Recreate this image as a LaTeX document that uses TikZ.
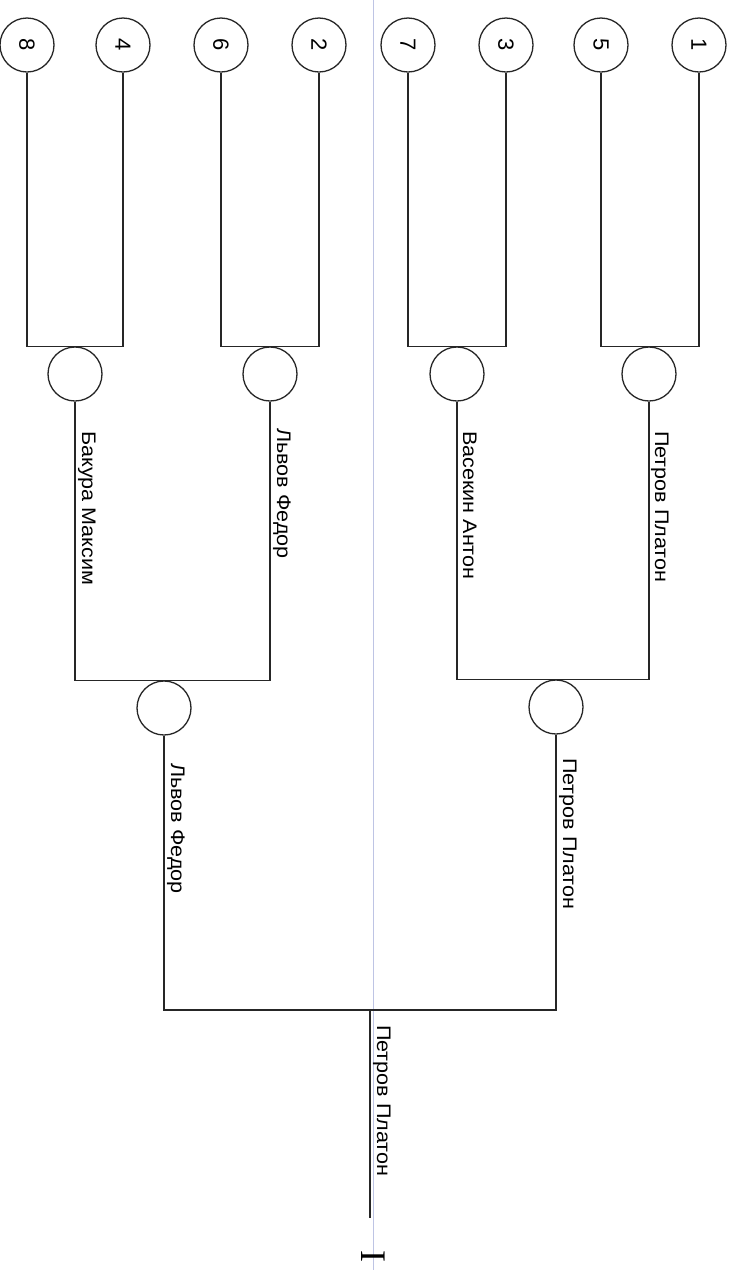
\documentclass[tikz,border=0pt]{standalone}
\usepackage{fontspec}
\setmainfont{Liberation Sans}
\newfontfamily\labfont[FakeStretch=1.1]{Liberation Sans}
\newfontfamily\romanI{Liberation Serif}
\begin{document}
\begin{tikzpicture}[x=1pt,y=1pt,
  seed/.style={circle,draw=black!85,line width=1.3pt,minimum size=54pt,inner sep=0pt,font=\fontsize{22}{24}\selectfont},
  game/.style={circle,draw=black!85,line width=1.3pt,minimum size=54pt,inner sep=0pt},
  wire/.style={draw=black!85,line width=1.3pt},
  fold/.style={draw={rgb,255:red,190;green,196;blue,228},line width=0.8pt},
  lab/.style={rotate=-90,anchor=base west,inner sep=0pt,font=\labfont\fontsize{19.6}{24}\selectfont},
  roman/.style={rotate=-90,inner sep=0pt,font=\romanI\fontsize{36}{40}\selectfont}]
\useasboundingbox[fill=white] (0,0) rectangle (731,-1270);
\coordinate (ftop) at (373,0);
\coordinate (fbot) at (373,-1270);
\draw[fold] (ftop) -- (fbot);
% seeds
\node[seed] (s8) at (27,-45) {\rotatebox{-90}{8}};
\node[seed] (s4) at (123,-45) {\rotatebox{-90}{4}};
\node[seed] (s6) at (221,-45) {\rotatebox{-90}{6}};
\node[seed] (s2) at (319,-45) {\rotatebox{-90}{2}};
\node[seed] (s7) at (408,-45) {\rotatebox{-90}{7}};
\node[seed] (s3) at (506,-45) {\rotatebox{-90}{3}};
\node[seed] (s5) at (601,-45) {\rotatebox{-90}{5}};
\node[seed] (s1) at (699,-45) {\rotatebox{-90}{1}};
% round 1 games
\node[game] (g84) at (75,-374) {};
\node[game] (g62) at (270,-374) {};
\node[game] (g73) at (457,-374) {};
\node[game] (g51) at (649,-374) {};
% round 2 games
\node[game] (h1) at (164,-708) {};
\node[game] (h2) at (556,-707) {};
\coordinate (fin) at (370,-1010);
\coordinate (end) at (370,-1218);
% connectors
\draw[wire] (s8.south) |- (g84.north) -| (s4.south);
\draw[wire] (s6.south) |- (g62.north) -| (s2.south);
\draw[wire] (s7.south) |- (g73.north) -| (s3.south);
\draw[wire] (s5.south) |- (g51.north) -| (s1.south);
\draw[wire] (g84.south) |- (h1.north) -| (g62.south);
\draw[wire] (g73.south) |- (h2.north) -| (g51.south);
\draw[wire] (h1.south) |- (fin) -| (h2.south);
\draw[wire] (fin) -- (end);
% labels
\node[lab] (l84) at (82,-431) {Бакура Максим};
\node[lab] (l62) at (277,-428) {Львов Федор};
\node[lab] (l73) at (463,-431) {Васекин Антон};
\node[lab] (l51) at (655,-431) {Петров Платон};
\node[lab] (lh1) at (171,-763) {Львов Федор};
\node[lab] (lh2) at (563,-758) {Петров Платон};
\node[lab] (lf) at (377,-1025) {Петров Платон};
\node[roman] (num) at (373,-1256) {I};
\end{tikzpicture}
\end{document}
